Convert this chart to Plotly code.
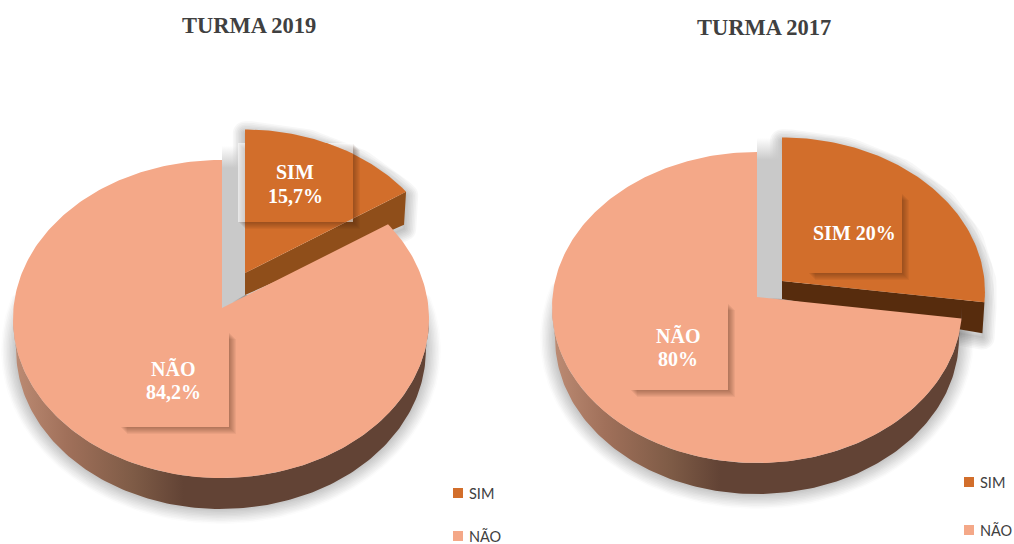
import numpy as np
import plotly.graph_objects as go

# Slice shares as they are drawn in the picture, and the printed labels
categories = ["SIM", "NÃO"]
shares_2019 = [15.7, 84.2]
shares_2017 = [27.2, 72.8]   # the drawn SIM slice is wider than its printed 20%
labels_2019 = [["SIM", "15,7%"], ["NÃO", "84,2%"]]
labels_2017 = [["SIM 20%"], ["NÃO", "80%"]]
titles = ["TURMA 2019", "TURMA 2017"]

NAO = "#f4a888"
SIM = "#d26e2b"
SERIF = "Liberation Serif"

fig = go.Figure()


def poly(x, y, color, line=None, lw=0, gradient=None):
    kw = dict(fillgradient=gradient) if gradient else dict(fillcolor=color)
    fig.add_trace(go.Scatter(
        x=list(x), y=list(y), mode="lines", fill="toself",
        line=dict(color=line or "rgba(0,0,0,0)", width=lw),
        hoverinfo="skip", showlegend=False, **kw))


def stroke(x, y, color, lw):
    fig.add_trace(go.Scatter(x=list(x), y=list(y), mode="lines", fill="none",
                             line=dict(color=color, width=lw),
                             hoverinfo="skip", showlegend=False))


def rim(theta, g):
    """Point where a ray from the projected pie centre meets the top ellipse."""
    px, py = (g["ax"] - g["cx"]) / g["rx"], (g["ay"] - g["cy"]) / g["ry"]
    qx, qy = np.sin(theta), -np.cos(theta)
    d = px * qx + py * qy
    t = -d + np.sqrt(d * d - px * px - py * py + 1)
    return g["cx"] + g["rx"] * (px + t * qx), g["cy"] + g["ry"] * (py + t * qy)


def clip(xs, ys, box):
    x0, x1, y0, y1 = box
    pts = list(zip(xs, ys))
    edges = [(0, x0, 1), (0, x1, -1), (1, y0, 1), (1, y1, -1)]
    for axis, lim, sign in edges:
        out = []
        for i, p in enumerate(pts):
            q = pts[(i + 1) % len(pts)]
            pin = sign * (p[axis] - lim) >= 0
            qin = sign * (q[axis] - lim) >= 0
            if pin:
                out.append(p)
            if pin != qin:
                t = (lim - p[axis]) / (q[axis] - p[axis])
                out.append((p[0] + t * (q[0] - p[0]), p[1] + t * (q[1] - p[1])))
        pts = out
    return [p[0] for p in pts], [p[1] for p in pts]


def box_shadow(box):
    x0, x1, y0, y1 = box
    for i in range(7):
        off = 1 + i
        poly([x0 + off, x1 + off, x1 + off, x0 + off],
             [y0 + off, y0 + off, y1 + off, y1 + off], "rgba(60,30,10,0.06)")


def pie(shares, g):
    frac = shares[0] / sum(shares)
    end = 2 * np.pi * frac
    th_nao = np.linspace(end, 2 * np.pi, 260)
    nx, ny = zip(*[rim(t, g) for t in th_nao])
    th_sim = np.linspace(0, end, 80)
    sx, sy = zip(*[rim(t, g) for t in th_sim])
    # exploded slice
    wax, way = g["ax"] + g["ox"], g["ay"] + g["oy"]
    wx = [wax + (x - g["ax"]) * g["ws"] for x in sx]
    wy = [way + (y - g["ay"]) * g["ws"] for y in sy]

    # full-outline wall
    a = np.linspace(np.pi / 2, 3 * np.pi / 2, 160)
    topx = g["cx"] + g["rx"] * np.sin(a)
    topy = g["cy"] - g["ry"] * np.cos(a)
    botx = g["cx"] + g["rx"] * 0.985 * np.sin(a)
    boty = g["cy"] + g["depth"] - g["ry"] * np.cos(a)

    # soft shadow under the body: concentric discs in a grey ramp, outermost first
    t_all = np.linspace(0, 2 * np.pi, 240)
    steps = 10
    for i in range(steps, 0, -1):
        grow = 1.5 * i
        level = int(round(200 + (252 - 200) * (i - 1) / (steps - 1)))
        ex = g["cx"] + (g["rx"] * 0.985 + grow) * np.sin(t_all)
        ey = g["cy"] + g["depth"] - (g["ry"] + grow) * np.cos(t_all)
        # the disc stays below the top of the body so the upper edge has no halo
        ey = np.maximum(ey, g["cy"] - g["ry"] * 0.15 + 0 * t_all)
        poly(ex, ey, f"rgb({level},{level},{level})")
    # soft shadow around the exploded slice
    wfar_x, wfar_y = wx[-1] - 2, wy[-1] + g["d_out"]
    wsx = [wax] + wx + [wfar_x, wax, wax]
    wsy = [way] + wy + [wfar_y, way + g["d_in"], way]
    for i in range(8):
        stroke(wsx, np.array(wsy) + 4, "rgba(0,0,0,0.03)", 2 + i * 3.2)
    # gap between the two pieces, fading out at its top end
    slot_top = ny[-1] - 14
    poly([g["ax"], nx[-1], nx[-1] + g["ox"], wax],
         [g["ay"], slot_top, slot_top, way + g["d_in"]], "#c9c9c9",
         gradient=dict(type="vertical", start=slot_top, stop=ny[-1] + 8,
                       colorscale=[[0, "rgba(201,201,201,0)"], [1, "rgba(201,201,201,1)"]]))

    # exploded slice: radial wall and top
    poly([wax, wax, wfar_x, wx[-1]],
         [way, way + g["d_in"], wfar_y, wy[-1]], g["wall"])
    poly([wax] + wx, [way] + wy, SIM)

    # main body wall with horizontal shading
    poly(list(topx) + list(botx[::-1]), list(topy) + list(boty[::-1]), "#624335",
         gradient=dict(type="horizontal", colorscale=[
             [0, "#bd8c74"], [0.13, "#a0705a"], [0.29, "#7e5b46"],
             [0.41, "#624335"], [1, "#624335"]]))
    poly([g["ax"]] + list(nx), [g["ay"]] + list(ny), NAO)

    # label tiles
    box = g["sim_box"]
    box_shadow(box)
    poly([box[0], box[1], box[1], box[0]], [box[2], box[2], box[3], box[3]],
         "rgba(255,255,255,0.55)")
    cx_, cy_ = clip([wax] + wx, [way] + wy, box)
    poly(cx_, cy_, SIM)
    box = g["nao_box"]
    box_shadow(box)
    poly([box[0], box[1], box[1], box[0]], [box[2], box[2], box[3], box[3]], NAO)


def text(x, y, s, size, color, family, bold=False, anchor="center"):
    fig.add_annotation(
        x=x, y=y, xref="x", yref="y", text=f"<b>{s}</b>" if bold else s,
        showarrow=False, xanchor=anchor, yanchor="middle",
        font=dict(size=size, color=color, family=family))


def tile_text(lines, cx, cy):
    for i, line in enumerate(lines):
        text(cx, cy + (i - (len(lines) - 1) / 2) * 23.5, line, 20, "white", SERIF, True)


geom_2019 = dict(cx=221, cy=319, rx=208, ry=159, ax=222, ay=308, ox=23, oy=-35,
                 ws=0.97, depth=31, d_in=22, d_out=33, wall="#8f4e1a",
                 sim_box=(238, 353, 143, 222), nao_box=(120, 229, 332, 427))
geom_2017 = dict(cx=757, cy=307.5, rx=205, ry=155.5, ax=757, ay=297, ox=25, oy=-16,
                 ws=0.99, depth=31, d_in=18, d_out=31, wall="#572c0d",
                 sim_box=(808, 902, 193, 273), nao_box=(630, 728, 303, 390))

pie(shares_2019, geom_2019)
pie(shares_2017, geom_2017)

tile_text(labels_2019[0], 295, 184)
tile_text(labels_2019[1], 173, 380.5)
tile_text(labels_2017[0], 854, 233)
tile_text(labels_2017[1], 678, 347.5)

text(249, 25, titles[0], 22.5, "#404040", SERIF, True)
text(764, 27, titles[1], 22.5, "#404040", SERIF, True)

# legends
for (mx, tx, ys) in [(458, 467, (493, 536)), (969, 978, (482, 530))]:
    for name, col, y in zip(categories, (SIM, NAO), ys):
        fig.add_trace(go.Scatter(x=[mx], y=[y], mode="markers", hoverinfo="skip", showlegend=False,
                                 marker=dict(symbol="square", size=10, color=col, line=dict(width=0))))
        text(tx, y, name, 14.5, "#404040", "Lato", False, "left")

fig.update_layout(
    width=1014, height=544, margin=dict(l=0, r=0, t=0, b=0),
    paper_bgcolor="white", plot_bgcolor="white", showlegend=False,
    xaxis=dict(range=[0, 1014], visible=False, fixedrange=True),
    yaxis=dict(range=[544, 0], visible=False, fixedrange=True),
)
round_js = ("document.body.style.margin='0';document.body.style.overflow='hidden';"
            "var rj=function(){document.querySelectorAll('.scatterlayer .js-line').forEach("
            "function(p){p.style.strokeLinejoin='round';p.style.strokeMiterlimit='1';});};"
            "rj();setTimeout(rj,0);setTimeout(rj,200);")
fig.write_html("out.html", config=dict(displayModeBar=False), post_script=round_js)
